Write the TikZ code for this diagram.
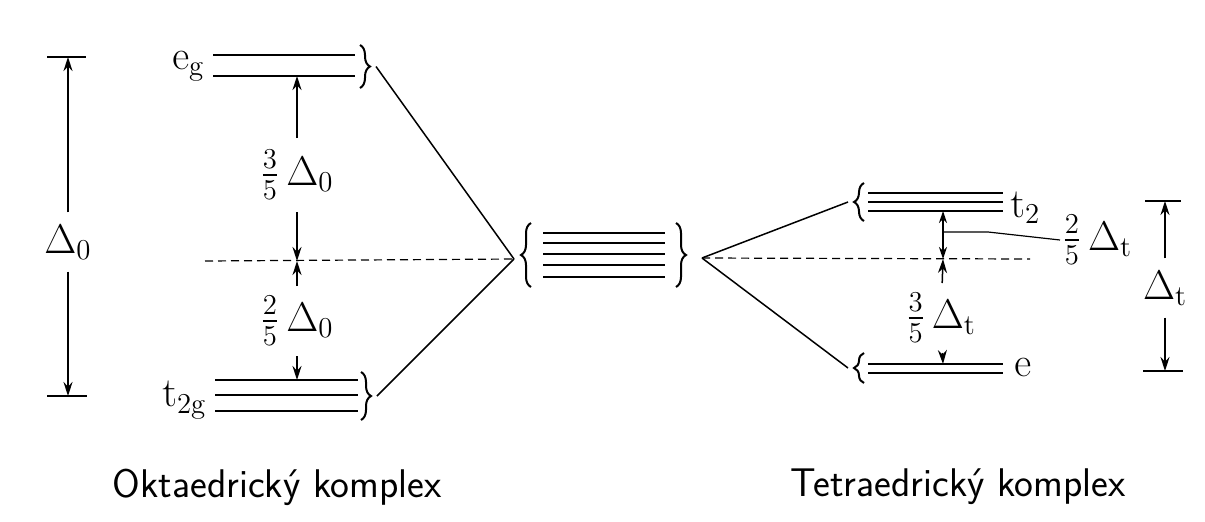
\documentclass[tikz,border=0pt]{standalone}
\usepackage{amsmath}
\usetikzlibrary{arrows.meta,decorations.pathreplacing}

\begin{document}
\begin{tikzpicture}[x=0.5pt,y=-0.5pt,
    lvl/.style={line width=1.4pt},
    gap/.style={-{Stealth[length=7pt,width=4.5pt]},line width=0.75pt},
    tick/.style={line width=0.9pt},
    base/.style={dashed,dash pattern=on 4pt off 2.5pt,line width=0.6pt},
    lbl/.style={font=\fontsize{20}{22}\selectfont,inner sep=1pt},
    captxt/.style={font=\sffamily\fontsize{20}{24}\selectfont},
    curly/.style={decorate,decoration={brace,amplitude=5pt},line width=1pt}]
  \useasboundingbox (0,0) rectangle (1205,521);

  % octahedral levels
  \foreach \y in {55,76} \draw[lvl] (213,\y) -- (355,\y);
  \foreach \y in {380,395,411} \draw[lvl] (215,\y) -- (358,\y);
  \coordinate (egtop) at (297,76);
  \coordinate (tgtop) at (297,380);
  \draw[curly] (360,45) -- (360,88) coordinate[pos=0.5,xshift=8pt] (egB);
  \draw[curly] (361,372) -- (361,420) coordinate[pos=0.5,xshift=8pt] (tgB);
  \node[lbl,anchor=east] (eg) at (207,66) {$\mathrm{e_g}$};
  \node[lbl,anchor=east] (tg) at (209,400) {$\mathrm{t_{2g}}$};

  % barycentre
  \coordinate (cL) at (514,259);
  \coordinate (cR) at (702,258);
  \foreach \y in {233,243,254,265,277} \draw[lvl] (543,\y) -- (665,\y);
  \draw[curly] (531,287) -- (531,223);
  \draw[curly] (676,223) -- (676,287);
  \draw[base] (205,261) -- (cL);
  \draw[base] (cR) -- (1030,259);
  \coordinate (omid) at (297,261);
  \coordinate (tmid) at (943,259);

  % splitting lines
  \draw[line width=0.75pt] (egB) -- (cL);
  \draw[line width=0.75pt] (tgB) -- (cL);

  % octahedral gaps
  \node[lbl,inner ysep=6pt] (f35o) at (297,175) {$\tfrac{3}{5}\,\Delta_0$};
  \draw[gap] (f35o) -- (egtop);
  \draw[gap] (f35o) -- (omid);
  \node[lbl,inner ysep=5pt] (f25o) at (297,321) {$\tfrac{2}{5}\,\Delta_0$};
  \draw[gap] (f25o) -- (omid);
  \draw[gap] (f25o) -- (tgtop);

  % Delta_0 bar
  \draw[tick] (47,57) coordinate (d0t) -- (86,57);
  \draw[tick] (47,396) coordinate (d0b) -- (87,396);
  \node[lbl,font=\fontsize{22}{24}\selectfont,inner ysep=6pt] (D0) at (68,242) {$\Delta_0$};
  \draw[gap] (D0) -- (D0 |- d0t);
  \draw[gap] (D0) -- (D0 |- d0b);

  % tetrahedral levels
  \foreach \y in {193,202,211} \draw[lvl] (868,\y) -- (1003,\y);
  \foreach \y in {364,373} \draw[lvl] (868,\y) -- (1003,\y);
  \coordinate (t2bot) at (943,211);
  \coordinate (etop) at (943,364);
  \draw[curly] (864,221) -- (864,183) coordinate[pos=0.5,xshift=-8pt] (t2B);
  \draw[curly] (864,383) -- (864,353) coordinate[pos=0.5,xshift=-8pt] (eB);
  \node[lbl,anchor=west] (t2) at (1008,208) {$\mathrm{t_2}$};
  \node[lbl,anchor=west] (e) at (1012,368) {$\mathrm{e}$};
  \draw[line width=0.75pt] (cR) -- (t2B);
  \draw[line width=0.75pt] (cR) -- (eB);

  % tetrahedral gaps
  \draw[gap,{Stealth[length=6pt,width=4pt]}-{Stealth[length=6pt,width=4pt]}] (t2bot) -- (tmid);
  \node[lbl,inner ysep=5pt] (f35t) at (941,318) {$\tfrac{3}{5}\,\Delta_\mathrm{t}$};
  \draw[gap] (f35t) -- (tmid);
  \draw[gap] (f35t) -- (etop);
  \node[lbl,anchor=west] (f25t) at (1060,240) {$\tfrac{2}{5}\,\Delta_\mathrm{t}$};
  \coordinate (lead) at (943,232);
  \draw[line width=0.6pt] (lead) -- (988,232) -- (f25t.west);

  % Delta_t bar
  \draw[tick] (1145,201) coordinate (dtt) -- (1181,201);
  \draw[tick] (1143,371) coordinate (dtb) -- (1183,371);
  \node[lbl,font=\fontsize{22}{24}\selectfont,inner ysep=6pt] (Dt) at (1165,288) {$\Delta_\mathrm{t}$};
  \draw[gap] (Dt.center |- Dt.north) -- (Dt |- dtt);
  \draw[gap] (Dt.center |- Dt.south) -- (Dt |- dtb);

  % captions
  \node[captxt] (okt) at (277,487) {Oktaedrický komplex};
  \node[captxt] (tet) at (958,487) {Tetraedrický komplex};
\end{tikzpicture}
\end{document}
